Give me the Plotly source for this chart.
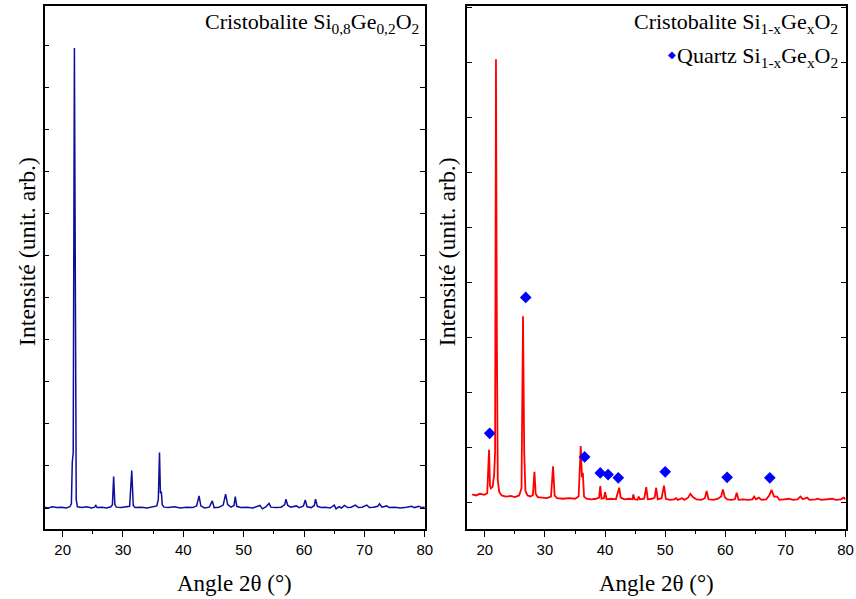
import plotly.graph_objects as go

# ---------------- data ----------------
# Left panel: Cristobalite Si0.8Ge0.2O2 (arbitrary intensity units)
left_angle = [17.0, 17.6, 18.3, 19.0, 19.8, 20.6, 21.2, 21.45, 21.6, 21.75, 21.95, 22.1, 22.25, 22.45,
              23.2, 24.0, 24.8, 25.3, 25.5, 25.7, 26.5, 27.3, 28.0, 28.25, 28.45, 28.65, 28.9, 29.7,
              30.5, 31.1, 31.45, 31.7, 32.0, 33.0, 34.0, 35.0, 35.6, 35.85, 36.05, 36.2, 36.35, 36.5,
              36.8, 37.5, 38.5, 39.5, 40.5, 41.5, 42.2, 42.6, 42.9, 43.5, 44.3, 44.8, 45.1, 45.9,
              46.6, 47.0, 47.35, 47.9, 48.4, 48.6, 48.85, 49.5, 50.5, 51.5, 52.2, 52.7, 53.1, 53.7,
              54.2, 54.5, 55.3, 56.2, 56.8, 57.0, 57.3, 57.8, 58.7, 59.2, 59.9, 60.2, 60.5, 61.2,
              61.7, 61.9, 62.2, 62.8, 63.5, 64.3, 65.0, 65.3, 65.8, 66.2, 66.7, 67.2, 67.8, 68.5,
              69.0, 69.6, 70.4, 70.8, 71.5, 72.2, 72.5, 72.9, 73.7, 74.1, 75.0, 76.0, 77.0, 77.8,
              78.3, 79.0, 79.5, 80.0]
left_intensity = [0.02, 0.00, 0.03, 0.01, 0.02, 0.00, 0.03, 0.10, 1.10, 1.30, 10.95, 2.00, 0.20, 0.03,
                  0.01, 0.03, 0.00, 0.02, 0.06, 0.01, 0.02, 0.00, 0.03, 0.08, 0.75, 0.08, 0.02, 0.01,
                  0.02, 0.04, 0.89, 0.06, 0.01, 0.02, 0.00, 0.03, 0.05, 0.20, 1.32, 0.35, 0.39, 0.08,
                  0.02, 0.01, 0.03, 0.00, 0.02, 0.01, 0.05, 0.29, 0.05, 0.00, 0.02, 0.17, 0.01, 0.02,
                  0.07, 0.33, 0.08, 0.02, 0.06, 0.27, 0.04, 0.01, 0.02, 0.00, 0.03, 0.06, -0.02, 0.03,
                  0.11, 0.02, 0.01, 0.02, 0.08, 0.21, 0.06, 0.02, 0.05, 0.01, 0.05, 0.19, 0.03, 0.01,
                  0.06, 0.21, 0.04, 0.01, 0.02, 0.00, 0.07, -0.02, 0.03, 0.00, 0.06, 0.01, 0.02, 0.07,
                  0.01, 0.02, 0.07, 0.01, 0.02, 0.04, 0.10, 0.02, 0.05, 0.01, 0.02, 0.00, 0.02, 0.04,
                  0.01, 0.04, 0.01, 0.02]

# Right panel: Cristobalite + Quartz Si1-xGexO2
right_angle = [17.9, 18.5, 19.2, 19.9, 20.4, 20.55, 20.7, 20.85, 21.0, 21.3, 21.55, 21.7, 21.85, 22.0,
               22.15, 22.4, 22.8, 23.5, 24.3, 25.0, 25.7, 26.1, 26.35, 26.55, 26.75, 27.1, 27.6, 28.0,
               28.25, 28.45, 28.8, 29.5, 30.3, 31.0, 31.35, 31.6, 32.0, 33.0, 34.0, 35.0, 35.6, 35.95,
               36.15, 36.3, 36.5, 36.9, 37.7, 38.5, 39.0, 39.2, 39.4, 39.8, 40.0, 40.25, 41.0, 41.8,
               42.1, 42.35, 42.6, 43.2, 44.0, 44.55, 44.7, 44.9, 45.4, 45.6, 45.8, 46.5, 46.85, 47.1,
               47.8, 48.25, 48.5, 48.75, 49.4, 49.8, 50.1, 50.8, 51.5, 51.8, 52.1, 52.8, 53.2, 53.8,
               54.2, 54.6, 55.2, 56.0, 56.6, 56.9, 57.2, 58.0, 58.8, 59.3, 59.6, 59.9, 60.3, 61.0,
               61.6, 61.9, 62.2, 63.0, 63.8, 64.5, 64.8, 65.1, 65.6, 66.0, 66.8, 67.3, 67.7, 68.1,
               68.6, 69.0, 69.8, 70.6, 71.2, 72.0, 72.5, 72.9, 73.6, 74.0, 75.0, 75.3, 76.0, 77.0,
               77.8, 78.4, 79.2, 79.7, 80.0]
right_intensity = [0.14, 0.12, 0.15, 0.13, 0.16, 0.50, 0.95, 0.30, 0.25, 0.28, 0.50, 0.90, 8.05, 3.00,
                   0.40, 0.18, 0.12, 0.10, 0.11, 0.09, 0.12, 0.25, 3.38, 0.90, 0.20, 0.12, 0.10, 0.13,
                   0.55, 0.15, 0.09, 0.08, 0.07, 0.10, 0.65, 0.12, 0.07, 0.06, 0.07, 0.06, 0.10, 1.02,
                   0.45, 0.53, 0.10, 0.06, 0.05, 0.06, 0.08, 0.29, 0.06, 0.07, 0.18, 0.05, 0.06, 0.05,
                   0.15, 0.26, 0.08, 0.05, 0.06, 0.05, 0.14, 0.05, 0.04, 0.10, 0.05, 0.06, 0.27, 0.05,
                   0.06, 0.08, 0.26, 0.05, 0.07, 0.30, 0.06, 0.04, 0.05, 0.07, 0.04, 0.07, 0.04, 0.08,
                   0.15, 0.09, 0.05, 0.04, 0.07, 0.20, 0.05, 0.04, 0.06, 0.10, 0.23, 0.09, 0.05, 0.04,
                   0.05, 0.17, 0.04, 0.05, 0.04, 0.05, 0.10, 0.05, 0.08, 0.04, 0.05, 0.12, 0.22, 0.10,
                   0.10, 0.04, 0.05, 0.06, 0.04, 0.05, 0.10, 0.05, 0.08, 0.04, 0.05, 0.06, 0.04, 0.05,
                   0.06, 0.04, 0.05, 0.08, 0.05]

# Quartz reflections marked with diamonds
quartz_angle = [20.8, 26.8, 36.6, 39.2, 40.5, 42.2, 50.0, 60.3, 67.4]
quartz_level = [1.25, 3.72, 0.82, 0.53, 0.50, 0.44, 0.55, 0.45, 0.44]

x_ticks = [20, 30, 40, 50, 60, 70, 80]
x_minor_ticks = [25, 35, 45, 55, 65, 75]

title_left = "Cristobalite Si<sub>0,8</sub>Ge<sub>0,2</sub>O<sub>2</sub>"
title_right = "Cristobalite Si<sub>1-x</sub>Ge<sub>x</sub>O<sub>2</sub>"
legend_quartz = "Quartz Si<sub>1-x</sub>Ge<sub>x</sub>O<sub>2</sub>"
x_title = "Angle 2θ (°)"
y_title = "Intensité (unit. arb.)"

# ---------------- figure ----------------
W, H = 856, 599
SX = 0.99  # observed horizontal squeeze of the rendered page; positions are pre-compensated
serif = "Liberation Serif, Times New Roman, serif"
sans = "Liberation Sans, Arial, sans-serif"


def px(x):
    return x / SX / W


def py(y):
    return 1 - y / H


fig = go.Figure()
fig.add_trace(go.Scatter(x=left_angle, y=left_intensity, mode="lines",
                         line=dict(color="#0e0e9c", width=1.5), xaxis="x", yaxis="y",
                         showlegend=False, hoverinfo="skip"))
fig.add_trace(go.Scatter(x=right_angle, y=right_intensity, mode="lines",
                         line=dict(color="#ff0000", width=1.8), xaxis="x2", yaxis="y2",
                         showlegend=False, hoverinfo="skip"))
fig.add_trace(go.Scatter(x=quartz_angle, y=quartz_level, mode="markers",
                         marker=dict(symbol="diamond", color="#0000ff", size=9),
                         xaxis="x2", yaxis="y2", showlegend=False, hoverinfo="skip"))

xl = [px(44.5), px(424.5)]
xr = [px(466.5), px(845)]
yd = [py(529), py(6)]


def xaxis_spec(domain, anchor):
    return dict(domain=domain, anchor=anchor, range=[17, 80], tickmode="array", tickvals=x_ticks,
                ticks="outside", ticklen=6, tickwidth=1.3, tickcolor="black",
                showline=True, linecolor="black", linewidth=1.6, mirror=True,
                showgrid=False, zeroline=False,
                tickfont=dict(family=sans, size=15, color="black"),
                minor=dict(tickmode="array", tickvals=x_minor_ticks, ticks="outside",
                           ticklen=3.5, tickwidth=1.2, tickcolor="black", showgrid=False))


def yaxis_spec(domain, anchor, rng):
    return dict(domain=domain, anchor=anchor, range=rng, ticks="inside", ticklen=5,
                tickwidth=1.2, tickcolor="black", tickmode="linear", tick0=0, dtick=1,
                showticklabels=False, showline=True, linecolor="black", linewidth=1.6,
                mirror="ticks", showgrid=False, zeroline=False)


fig.update_layout(
    width=W, height=H, margin=dict(l=0, r=0, t=0, b=0),
    paper_bgcolor="white", plot_bgcolor="white",
    xaxis=xaxis_spec(xl, "y"),
    xaxis2=xaxis_spec(xr, "y2"),
    yaxis=yaxis_spec(yd, "x", [-0.5, 11.95]),
    yaxis2=yaxis_spec(yd, "x2", [-0.49, 9.02]),
)

ann = []
ann.append(dict(text=title_left, x=px(421), y=py(23), xref="paper", yref="paper",
                xanchor="right", yanchor="middle", showarrow=False,
                font=dict(family=serif, size=22, color="black")))
ann.append(dict(text=title_right, x=px(839), y=py(23), xref="paper", yref="paper",
                xanchor="right", yanchor="middle", showarrow=False,
                font=dict(family=serif, size=22, color="black")))
ann.append(dict(text=legend_quartz, x=px(839), y=py(57), xref="paper", yref="paper",
                xanchor="right", yanchor="middle", showarrow=False,
                font=dict(family=serif, size=22, color="black")))
ann.append(dict(text="◆", x=px(672), y=py(55), xref="paper", yref="paper",
                xanchor="center", yanchor="middle", showarrow=False,
                font=dict(family="DejaVu Sans", size=10, color="#0000ff")))
for cx in [(xl[0] + xl[1]) / 2, (xr[0] + xr[1]) / 2]:
    ann.append(dict(text=x_title, x=cx, y=py(583), xref="paper", yref="paper",
                    xanchor="center", yanchor="middle", showarrow=False,
                    font=dict(family=serif, size=23, color="black")))
for cx in [px(27), px(447)]:
    ann.append(dict(text=y_title, x=cx, y=py(252), xref="paper", yref="paper",
                    xanchor="center", yanchor="middle", showarrow=False, textangle=-90,
                    font=dict(family=serif, size=23.8, color="black")))
fig.update_layout(annotations=ann)

fig.write_html("out.html", config={"displayModeBar": False},
               post_script=("document.body.style.margin='0px';"
                            "document.documentElement.style.overflow='hidden';"
                            "document.body.style.overflow='hidden';"))
